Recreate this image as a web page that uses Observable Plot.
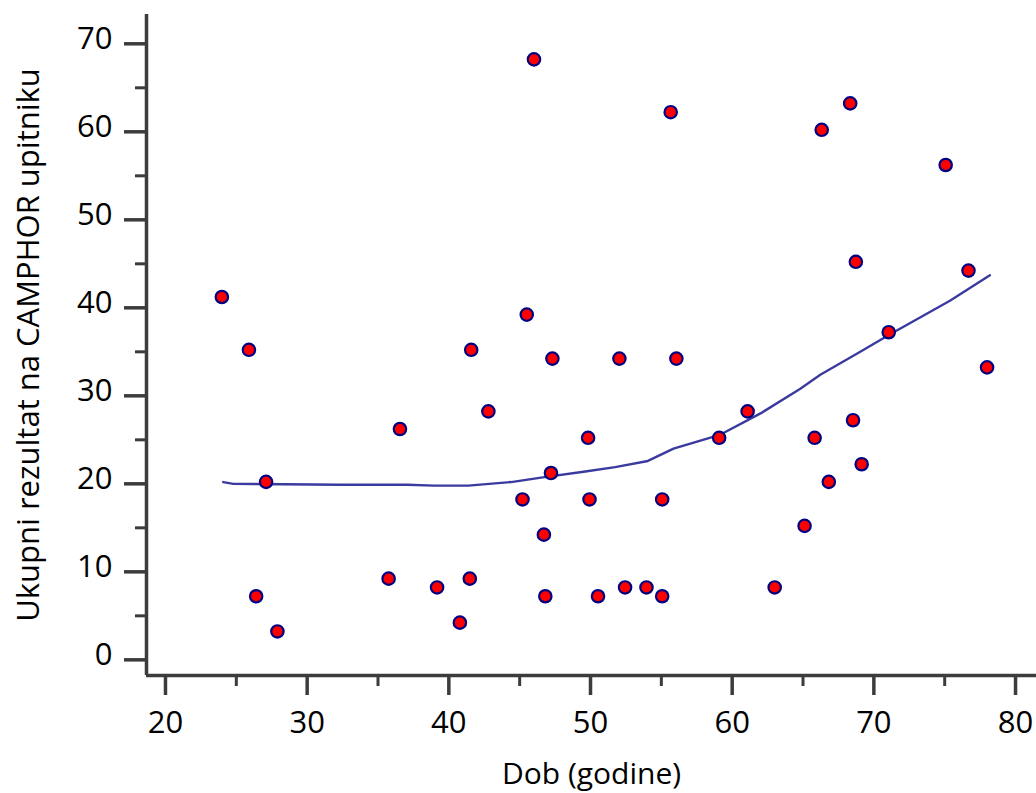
<!DOCTYPE html>
<html>
<head>
<meta charset="utf-8">
<script src="https://cdn.jsdelivr.net/npm/d3@7"></script>
<script src="https://cdn.jsdelivr.net/npm/@observablehq/plot@0.6"></script>
<style>
  html, body { margin: 0; padding: 0; background: #fff; }
  #chart svg { display: block; }
</style>
</head>
<body>
<div id="chart"></div>
<script>
// Data
const age   = [23.98, 25.89, 27.10, 26.40, 27.90, 35.75, 36.55, 39.17, 40.78, 41.48, 41.58, 42.79, 45.20, 45.50, 46.01, 46.71, 46.81, 47.21, 47.31, 49.83, 49.93, 50.53, 52.04, 52.44, 53.95, 55.06, 55.06, 55.66, 56.06, 59.08, 61.09, 63.00, 65.11, 65.82, 66.32, 66.82, 68.33, 68.53, 68.73, 69.14, 71.05, 75.07, 76.68, 77.99];
const score = [41, 35, 20, 7, 3, 9, 26, 8, 4, 9, 35, 28, 18, 39, 68, 14, 7, 21, 34, 25, 18, 7, 34, 8, 8, 7, 18, 62, 34, 25, 28, 8, 15, 25, 60, 20, 63, 27, 45, 22, 37, 56, 44, 33];

// Smoothed (LOESS-like) curve
const curveAge   = [24.08, 24.79, 32.33, 37.06, 38.97, 41.38, 44.40, 46.51, 49.63, 51.74, 54.05, 55.86, 59.18, 62.00, 64.81, 66.22, 69.04, 71.15, 75.37, 78.19];
const curveScore = [20.2, 20.0, 19.9, 19.9, 19.8, 19.8, 20.2, 20.7, 21.4, 21.9, 22.6, 24.0, 25.6, 28.0, 30.8, 32.4, 35.0, 37.0, 40.8, 43.7];

const xMajor = [20, 30, 40, 50, 60, 70, 80];
const xMinor = [25, 35, 45, 55, 65, 75];
const yMajor = [0, 10, 20, 30, 40, 50, 60, 70];
const yMinor = [5, 15, 25, 35, 45, 55, 65];

const xLabel = "Dob (godine)";
const yLabel = "Ukupni rezultat na CAMPHOR upitniku";

const xDomain = [18.66, 81.48];
const yDomain = [-1.78, 73.33];

const points = age.map((a, i) => ({age: a, score: score[i]}));
const curve = curveAge.map((a, i) => ({age: a, score: curveScore[i]}));

const axisColor = "#3c3c3c";
const font = "'Open Sans', 'Noto Sans', sans-serif";

const chart = Plot.plot({
  width: 1036,
  height: 793,
  marginLeft: 146,
  marginRight: 0,
  marginTop: 14,
  marginBottom: 118,
  style: {fontFamily: font, fontSize: "31px", background: "#fff", color: "#000"},
  x: {domain: xDomain},
  y: {domain: yDomain},
  marks: [
    // axis lines
    Plot.ruleX([xDomain[0]], {y1: yDomain[0], y2: yDomain[1], stroke: axisColor, strokeWidth: 3.5}),
    Plot.ruleY([yDomain[0]], {x1: xDomain[0], x2: xDomain[1], stroke: axisColor, strokeWidth: 3.5}),
    // y ticks and labels
    Plot.axisY(yMajor, {tickSize: 22, text: null, stroke: axisColor, strokeWidth: 3.5, label: null}),
    Plot.axisY(yMajor, {tickSize: 0, tickPadding: 34, dy: -5, fontSize: 31, fill: "#000", label: null}),
    Plot.axisY(yMinor, {tickSize: 11, text: null, stroke: axisColor, strokeWidth: 3, label: null}),
    // x ticks and labels
    Plot.axisX(xMajor, {tickSize: 20, tickPadding: 15, stroke: axisColor, strokeWidth: 3.5, fontSize: 31, fill: "#000", label: null}),
    Plot.axisX(xMinor, {tickSize: 11, text: null, stroke: axisColor, strokeWidth: 3, label: null}),
    // axis titles
    Plot.text([xLabel], {frameAnchor: "bottom", dy: 99, fontSize: 30, fill: "#000", lineAnchor: "middle"}),
    Plot.text([yLabel], {frameAnchor: "left", textAnchor: "middle", dx: -117, rotate: -90, fontSize: 31, fill: "#000", lineAnchor: "middle"}),
    // smoothed curve
    Plot.line(curve, {x: "age", y: "score", stroke: "#3a3aa0", strokeWidth: 2.4}),
    // points
    Plot.dot(points, {x: "age", y: "score", dy: -2, r: 6.2, fill: "#ff0000", stroke: "#000080", strokeWidth: 2.2})
  ]
});

document.getElementById("chart").appendChild(chart);
</script>
</body>
</html>
